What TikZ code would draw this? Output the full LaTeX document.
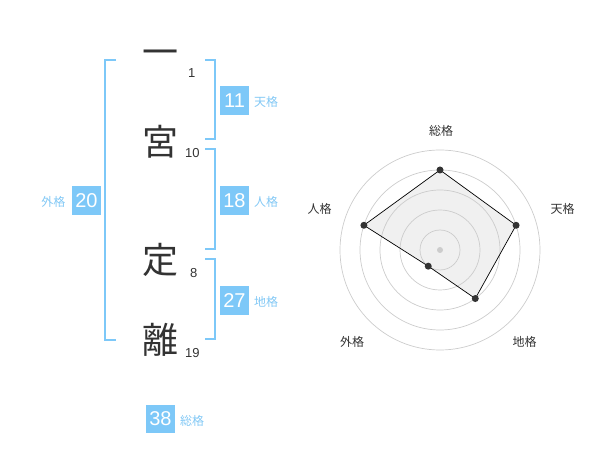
\documentclass[tikz,border=0pt]{standalone}
\usepackage{fontspec}
\setmainfont{Liberation Sans}
\newfontfamily\jpfont{Noto Sans CJK JP}
\definecolor{kblue}{RGB}{125,200,248}
\definecolor{klabel}{RGB}{130,200,245}
\definecolor{kdark}{RGB}{51,51,51}
\definecolor{kgrid}{RGB}{204,204,204}
\definecolor{kfill}{RGB}{240,240,240}
\tikzset{
  kanji/.style={font=\jpfont\fontsize{36}{36}\selectfont, text=kdark, inner sep=0pt},
  stroke/.style={font=\fontsize{13}{13}\selectfont, text=kdark, inner sep=0pt, anchor=base west},
  numbox/.style={fill=kblue, text=white, font=\fontsize{20}{20}\selectfont, minimum width=28.5pt, minimum height=28.5pt, inner sep=0pt},
  kaku/.style={font=\jpfont\fontsize{12}{12}\selectfont, text=klabel, inner sep=0pt},
  bracket/.style={draw=kblue, line width=2pt},
  rlabel/.style={font=\jpfont\fontsize{12}{12}\selectfont, text=kdark, inner sep=0pt},
  ring/.style={draw=kgrid, line width=0.7pt},
  rdot/.style={circle, fill=kdark, inner sep=0pt, minimum size=7pt},
}
\begin{document}
\begin{tikzpicture}[x=1pt,y=-1pt]
\useasboundingbox (0,0) rectangle (600,470);
% kanji
\node[kanji] (k1) at (160,58) {一};
\node[kanji] (k2) at (160,142) {宮};
\node[kanji] (k3) at (160,260) {定};
\node[kanji] (k4) at (160,340) {離};
% stroke counts
\node[stroke] (s1) at (188,77.5) {1};
\node[stroke] (s2) at (185,157.5) {10};
\node[stroke] (s3) at (190,277.5) {8};
\node[stroke] (s4) at (185,357.5) {19};
% brackets
\draw[bracket] (116,60) -- (105,60) -- (105,340) -- (116,340);
\draw[bracket] (205,60) -- (215,60) -- (215,139) -- (205,139);
\draw[bracket] (205,149) -- (215,149) -- (215,249) -- (205,249);
\draw[bracket] (205,259) -- (215,259) -- (215,339) -- (205,339);
% boxes
\node[numbox] (b11) at (234.5,100.5) {11};
\node[kaku, anchor=west] (t11) at (254,102) {天格};
\node[numbox] (b18) at (234.5,200.5) {18};
\node[kaku, anchor=west] (t18) at (254,202) {人格};
\node[numbox] (b27) at (234.5,300.5) {27};
\node[kaku, anchor=west] (t27) at (254,302) {地格};
\node[numbox] (b20) at (86.5,200.5) {20};
\node[kaku, anchor=east] (t20) at (65.5,202) {外格};
\node[numbox] (b38) at (160.5,419) {38};
\node[kaku, anchor=west] (t38) at (180,420.5) {総格};
% radar
\coordinate (c) at (440,250);
\path (c) ++(0,-80) coordinate (pa);
\path (c) ++(76.08,-24.72) coordinate (pb);
\path (c) ++(35.27,48.54) coordinate (pc);
\path (c) ++(-11.76,16.18) coordinate (pd);
\path (c) ++(-76.08,-24.72) coordinate (pe);
\fill[kfill] (pa) -- (pb) -- (pc) -- (pd) -- (pe) -- cycle;
\foreach \r in {20,40,60,80,100} \draw[ring] (c) circle[radius=\r];
\draw[black, line width=0.7pt, line join=round] (pa) -- (pb) -- (pc) -- (pd) -- (pe) -- cycle;
\node[circle, fill=kgrid, inner sep=0pt, minimum size=6pt] (cd) at (c) {};
\foreach \p in {pa,pb,pc,pd,pe} \node[rdot] at (\p) {};
\node[rlabel] (l1) at (441,131) {総格};
\node[rlabel] (l2) at (562.5,209) {天格};
\node[rlabel] (l3) at (319.5,209) {人格};
\node[rlabel] (l4) at (352,342) {外格};
\node[rlabel] (l5) at (524.5,342) {地格};
\end{tikzpicture}
\end{document}
